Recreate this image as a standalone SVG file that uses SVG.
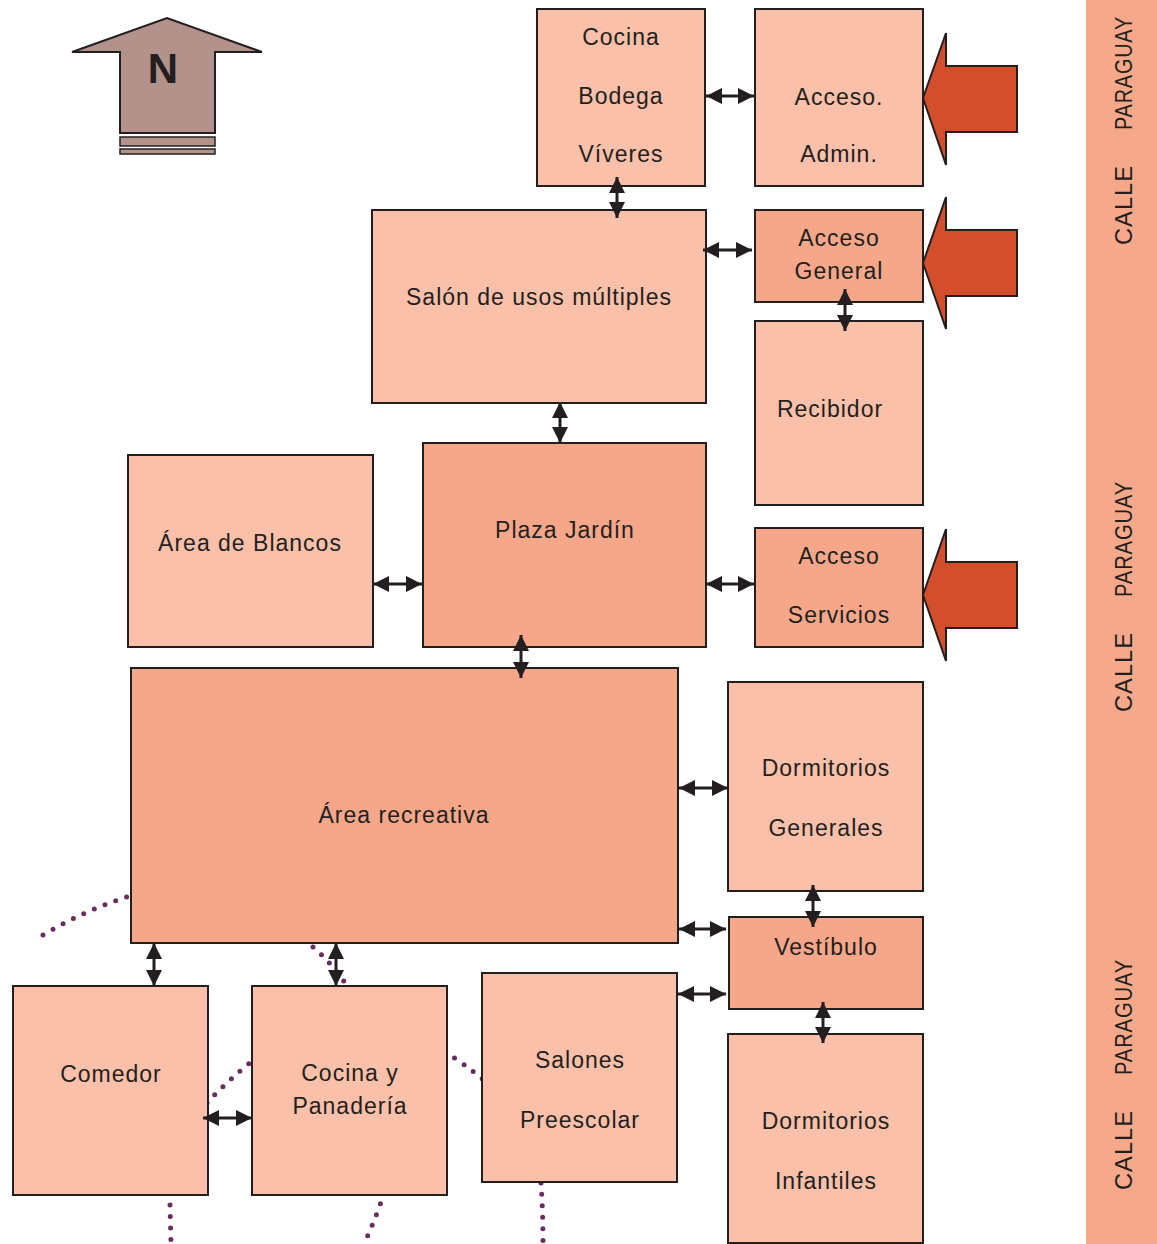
<svg xmlns="http://www.w3.org/2000/svg" width="1157" height="1244" viewBox="0 0 1157 1244">
<defs>
<marker id="ah" markerUnits="userSpaceOnUse" markerWidth="16" markerHeight="16" refX="15" refY="7.5" orient="auto-start-reverse" viewBox="0 0 15 15">
<path d="M0,0 L15,7.5 L0,15 z" fill="#231F20"/>
</marker>
</defs>
<style>
.lt{fill:#FBC0A9;stroke:#231F20;stroke-width:2}
.dk{fill:#F6A78A;stroke:#231F20;stroke-width:2}
.t{font-family:"Liberation Sans",Arial,sans-serif;font-size:23px;fill:#231F20;text-anchor:middle;letter-spacing:1px}
.st{font-family:"Liberation Sans",Arial,sans-serif;font-size:23px;fill:#231F20;letter-spacing:1px}
.c{stroke:#231F20;stroke-width:3;fill:none;marker-start:url(#ah);marker-end:url(#ah)}
.dot{fill:none;stroke:#6B2B5E;stroke-width:5;stroke-dasharray:0 11.5;stroke-linecap:round}
.ra{fill:#D34E2A;stroke:#231F20;stroke-width:2}
</style>
<rect width="1157" height="1244" fill="#FFFFFF"/>

<g id="street">
<rect x="1086" y="0" width="71" height="1244" fill="#F6A98A"/>
<g transform="translate(1132,130) rotate(-90)"><text class="st" x="-115" y="0" textLength="80" lengthAdjust="spacingAndGlyphs">CALLE</text><text class="st" x="0" y="0" textLength="114" lengthAdjust="spacingAndGlyphs">PARAGUAY</text></g>
<g transform="translate(1132,597) rotate(-90)"><text class="st" x="-115" y="0" textLength="80" lengthAdjust="spacingAndGlyphs">CALLE</text><text class="st" x="0" y="0" textLength="116" lengthAdjust="spacingAndGlyphs">PARAGUAY</text></g>
<g transform="translate(1132,1075) rotate(-90)"><text class="st" x="-115" y="0" textLength="80" lengthAdjust="spacingAndGlyphs">CALLE</text><text class="st" x="0" y="0" textLength="116" lengthAdjust="spacingAndGlyphs">PARAGUAY</text></g>
</g>

<g id="north">
<polygon points="72,52 167,18 262,52 215,52 215,133 120,133 120,52" fill="#B4928C" stroke="#231F20" stroke-width="2"/>
<rect x="120" y="137" width="95" height="9" fill="#B4928C" stroke="#231F20" stroke-width="1.5"/>
<rect x="120" y="149" width="95" height="5" fill="#B4928C" stroke="#231F20" stroke-width="1.5"/>
<text x="163" y="83" font-family="Liberation Sans,Arial,sans-serif" font-weight="bold" font-size="42" fill="#231F20" text-anchor="middle">N</text>
</g>

<g id="dotted">
<path class="dot" d="M43,935 Q85,910 130,896"/>
<path class="dot" d="M313,947 Q332,963 350,990"/>
<path class="dot" d="M445,1052 Q465,1064 486,1082"/>
<path class="dot" d="M384,1193 Q376,1218 364,1244"/>
<path class="dot" d="M541,1183 Q543,1212 543,1244"/>
<path class="dot" d="M207,1103 Q228,1080 256,1058"/>
<path class="dot" d="M170,1205 L171,1244"/>
</g>

<g id="entries">
<polygon class="ra" points="923,98 946,33 946,66 1017,66 1017,132 946,132 946,165"/>
<polygon class="ra" points="923,263 946,197 946,230 1017,230 1017,296 946,296 946,329"/>
<polygon class="ra" points="923,595 946,529 946,562 1017,562 1017,628 946,628 946,661"/>
</g>

<g id="cocina-bodega"><rect class="lt" x="537" y="9" width="168" height="177"/>
<text class="t" x="621" y="45">Cocina</text><text class="t" x="621" y="104">Bodega</text><text class="t" x="621" y="162">Víveres</text></g>

<g id="acceso-admin"><rect class="lt" x="755" y="9" width="168" height="177"/>
<text class="t" x="839" y="105">Acceso.</text><text class="t" x="839" y="162">Admin.</text></g>

<g id="salon"><rect class="lt" x="372" y="210" width="334" height="193"/>
<text class="t" x="539" y="305">Salón de usos múltiples</text></g>

<g id="acceso-general"><rect class="dk" x="755" y="210" width="168" height="92"/>
<text class="t" x="839" y="246">Acceso</text><text class="t" x="839" y="279">General</text></g>

<g id="recibidor"><rect class="lt" x="755" y="321" width="168" height="184"/>
<text class="t" x="830" y="417">Recibidor</text></g>

<g id="area-blancos"><rect class="lt" x="128" y="455" width="245" height="192"/>
<text class="t" x="250" y="551">Área de Blancos</text></g>

<g id="plaza"><rect class="dk" x="423" y="443" width="283" height="204"/>
<text class="t" x="565" y="538">Plaza Jardín</text></g>

<g id="acceso-servicios"><rect class="dk" x="755" y="528" width="168" height="119"/>
<text class="t" x="839" y="564">Acceso</text><text class="t" x="839" y="623">Servicios</text></g>

<g id="area-recreativa"><rect class="dk" x="131" y="668" width="547" height="275"/>
<text class="t" x="404" y="823">Área recreativa</text></g>

<g id="dorm-generales"><rect class="lt" x="728" y="682" width="195" height="209"/>
<text class="t" x="826" y="776">Dormitorios</text><text class="t" x="826" y="836">Generales</text></g>

<g id="vestibulo"><rect class="dk" x="729" y="917" width="194" height="92"/>
<text class="t" x="826" y="955">Vestíbulo</text></g>

<g id="comedor"><rect class="lt" x="13" y="986" width="195" height="209"/>
<text class="t" x="111" y="1082">Comedor</text></g>

<g id="cocina-panaderia"><rect class="lt" x="252" y="986" width="195" height="209"/>
<text class="t" x="350" y="1081">Cocina y</text><text class="t" x="350" y="1114">Panadería</text></g>

<g id="salones-preescolar"><rect class="lt" x="482" y="973" width="195" height="209"/>
<text class="t" x="580" y="1068">Salones</text><text class="t" x="580" y="1128">Preescolar</text></g>

<g id="dorm-infantiles"><rect class="lt" x="728" y="1034" width="195" height="209"/>
<text class="t" x="826" y="1129">Dormitorios</text><text class="t" x="826" y="1189">Infantiles</text></g>

<g id="connectors">
<line class="c" x1="706" y1="96" x2="754" y2="96"/>
<line class="c" x1="617" y1="177" x2="617" y2="218"/>
<line class="c" x1="703" y1="250" x2="752" y2="250"/>
<line class="c" x1="845" y1="289" x2="845" y2="331"/>
<line class="c" x1="560" y1="402" x2="560" y2="443"/>
<line class="c" x1="373" y1="584" x2="422" y2="584"/>
<line class="c" x1="706" y1="584" x2="754" y2="584"/>
<line class="c" x1="521" y1="635" x2="521" y2="678"/>
<line class="c" x1="679" y1="788" x2="728" y2="788"/>
<line class="c" x1="813" y1="885" x2="813" y2="927"/>
<line class="c" x1="679" y1="929" x2="726" y2="929"/>
<line class="c" x1="678" y1="994" x2="726" y2="994"/>
<line class="c" x1="823" y1="1002" x2="823" y2="1043"/>
<line class="c" x1="154" y1="943" x2="154" y2="986"/>
<line class="c" x1="336" y1="943" x2="336" y2="986"/>
<line class="c" x1="203" y1="1118" x2="252" y2="1118"/>
</g>
</svg>
